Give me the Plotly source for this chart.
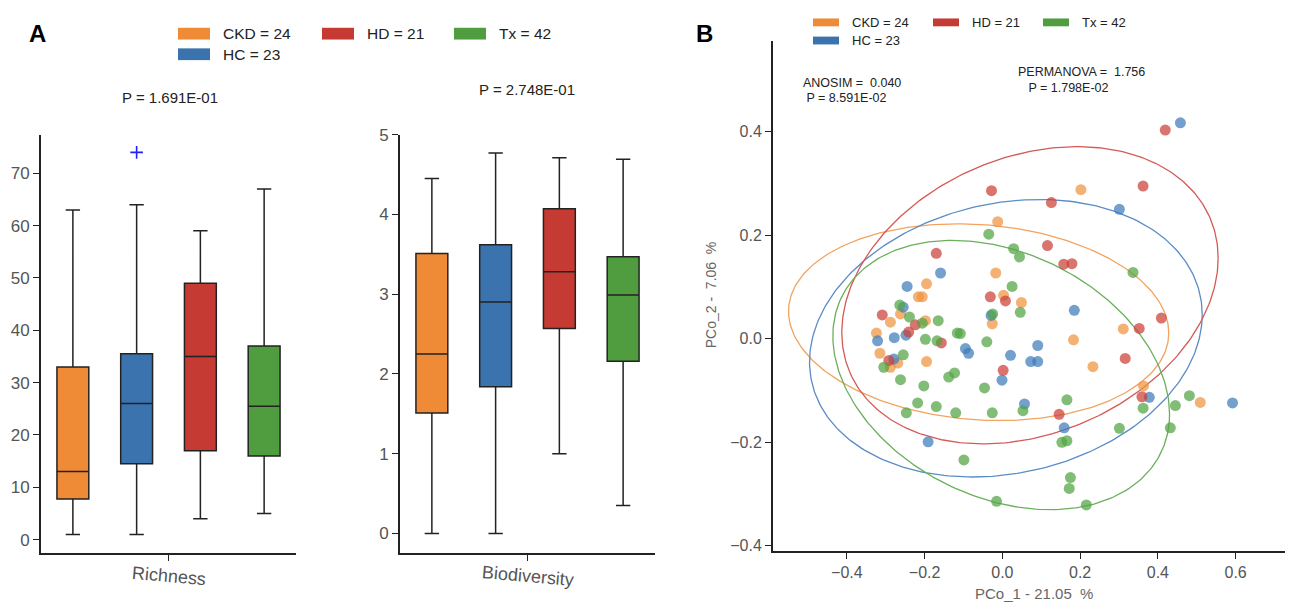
import numpy as np
import plotly.graph_objects as go

# page body adds an 8 px margin, so the figure is 8 px smaller and positions are shifted
OFF = 8
W, H = 1293 - OFF, 605 - OFF

# ---------------- data ----------------
groups = ["CKD", "HC", "HD", "Tx"]
group_n = [24, 23, 21, 42]
box_colors = ["#EF8A37", "#3A73AE", "#C53A32", "#4F9D3F"]
pt_colors = ["#F0933F", "#3F7BBA", "#CC3F37", "#52A443"]
box_pos = [0, 1, 2, 3]
metric_labels = ["Richness", "Biodiversity"]

# Richness box statistics
rich_min = [1, 1, 4, 5]
rich_q1 = [7.75, 14.5, 17, 16]
rich_med = [13, 26, 35, 25.5]
rich_q3 = [33, 35.5, 49, 37]
rich_max = [63, 64, 59, 67]
rich_outlier_pos = [1]
rich_outlier_val = [74]

# Biodiversity box statistics
bio_min = [0.0, 0.0, 1.0, 0.35]
bio_q1 = [1.51, 1.84, 2.57, 2.16]
bio_med = [2.25, 2.90, 3.28, 2.99]
bio_q3 = [3.51, 3.62, 4.07, 3.47]
bio_max = [4.45, 4.77, 4.71, 4.69]

rich_p = "P = 1.691E-01"
bio_p = "P = 2.748E-01"

# PCoA coordinates
ckd_x = [-0.012, 0.202, -0.017, -0.195, -0.216, -0.206, 0.003, 0.049, -0.262, -0.288, -0.198,
         -0.026, -0.324, 0.183, 0.311, -0.315, -0.269, -0.288, -0.195, 0.233, 0.363, 0.509]
ckd_y = [0.226, 0.288, 0.127, 0.106, 0.081, 0.081, 0.084, 0.070, 0.048, 0.032, 0.035,
         0.029, 0.011, -0.002, 0.019, -0.028, -0.047, -0.055, -0.044, -0.054, -0.091, -0.123]
hc_x = [0.458, 0.301, -0.159, -0.245, -0.255, -0.029, -0.248, -0.321, -0.278, 0.185, 0.091, -0.095,
        -0.087, 0.021, 0.073, 0.091, -0.001, -0.279, 0.057, 0.159, -0.191, 0.378, 0.592]
hc_y = [0.417, 0.250, 0.127, 0.101, 0.061, 0.045, 0.007, -0.004, 0.002, 0.055, -0.013, -0.019,
        -0.028, -0.032, -0.044, -0.044, -0.080, -0.039, -0.126, -0.172, -0.199, -0.113, -0.124]
hd_x = [0.419, -0.028, 0.362, 0.126, -0.170, 0.116, 0.158, 0.179, -0.031, 0.008, -0.309,
        -0.224, -0.241, -0.157, -0.292, 0.409, 0.352, 0.316, 0.002, 0.146, 0.359]
hd_y = [0.403, 0.286, 0.295, 0.263, 0.165, 0.180, 0.144, 0.145, 0.081, 0.073, 0.046,
        0.027, 0.013, -0.008, -0.042, 0.040, 0.020, -0.038, -0.061, -0.146, -0.112]
tx_x = [-0.035, 0.029, 0.044, 0.025, 0.046, -0.264, -0.239, -0.206, -0.165, -0.025, -0.198,
        -0.168, -0.116, -0.108, -0.040, 0.336, -0.255, -0.305, -0.262, -0.202, -0.138, -0.123,
        -0.046, -0.218, -0.170, -0.247, -0.120, -0.026, 0.053, 0.166, 0.301, 0.153, 0.166,
        -0.099, 0.175, 0.172, -0.015, 0.216, 0.362, 0.481, 0.445, 0.432]
tx_y = [0.202, 0.174, 0.158, 0.101, 0.051, 0.065, 0.042, 0.030, 0.035, 0.048, -0.001,
        -0.004, 0.011, 0.010, -0.006, 0.128, -0.031, -0.055, -0.079, -0.091, -0.074, -0.066,
        -0.095, -0.124, -0.131, -0.143, -0.143, -0.143, -0.139, -0.118, -0.173, -0.200, -0.197,
        -0.234, -0.268, -0.289, -0.314, -0.321, -0.134, -0.110, -0.129, -0.172]
pcoa_x = [ckd_x, hc_x, hd_x, tx_x]
pcoa_y = [ckd_y, hc_y, hd_y, tx_y]

# confidence ellipses: centre, half-width, half-height, x/y coupling
ell_cx = [-0.061, 0.009, 0.071, -0.003]
ell_cy = [0.032, 0.001, 0.084, -0.070]
ell_w = [0.489, 0.505, 0.484, 0.433]
ell_h = [0.190, 0.268, 0.287, 0.260]
ell_c = [-0.11, 0.17, 0.25, -0.29]
ell_colors = ["#F2A35E", "#5A8CC6", "#D45A55", "#6AB05C"]

anosim_txt = ["ANOSIM =\u00a0\u00a00.040", "\u00a0P = 8.591E-02"]
permanova_txt = ["PERMANOVA =\u00a0\u00a01.756", "\u00a0\u00a0\u00a0P = 1.798E-02"]
x_title_b = "PCo_1 - 21.05\u00a0\u00a0%"
y_title_b = "PCo_2 -\u00a0\u00a07.06\u00a0\u00a0%"

# ---------------- figure ----------------
FONT = "Liberation Sans, Arial, sans-serif"
AXC = "#222222"
TICKC = "#555555"


def px_x(p):
    return (p - OFF) / W


def px_y(p):
    return 1 - (p - OFF) / H


fig = go.Figure()

# Panel A boxes
for ax, (lo, q1, md, q3, hi) in [("x", (rich_min, rich_q1, rich_med, rich_q3, rich_max)),
                                  ("x2", (bio_min, bio_q1, bio_med, bio_q3, bio_max))]:
    yax = "y" if ax == "x" else "y2"
    for i in range(4):
        fig.add_trace(go.Box(
            x=[box_pos[i]], q1=[q1[i]], median=[md[i]], q3=[q3[i]],
            lowerfence=[lo[i]], upperfence=[hi[i]],
            width=0.5, whiskerwidth=0.45, boxpoints=False,
            fillcolor=box_colors[i], line=dict(color=AXC, width=1.5),
            xaxis=ax, yaxis=yax, showlegend=False, hoverinfo="skip"))

fig.add_trace(go.Scatter(
    x=rich_outlier_pos, y=rich_outlier_val, mode="markers",
    marker=dict(symbol="cross-thin", size=9, line=dict(color="#1F1FFF", width=1.6)),
    xaxis="x", yaxis="y", showlegend=False, hoverinfo="skip"))

# Panel B ellipses
t = np.linspace(0, 2 * np.pi, 300)
for i in range(4):
    ex = ell_cx[i] + ell_w[i] * np.cos(t)
    ey = ell_cy[i] + ell_h[i] * (ell_c[i] * np.cos(t) + np.sqrt(1 - ell_c[i] ** 2) * np.sin(t))
    fig.add_trace(go.Scatter(x=ex, y=ey, mode="lines", line=dict(color=ell_colors[i], width=1.3),
                             xaxis="x3", yaxis="y3", showlegend=False, hoverinfo="skip"))

# Panel B points
for i in range(4):
    fig.add_trace(go.Scatter(
        x=pcoa_x[i], y=pcoa_y[i], mode="markers",
        marker=dict(size=11, color=pt_colors[i], opacity=0.72, line=dict(width=0)),
        xaxis="x3", yaxis="y3", showlegend=False, hoverinfo="skip"))

axis_common = dict(showline=True, linecolor=AXC, linewidth=2, ticks="outside", ticklen=6,
                   tickwidth=1.3, tickcolor=AXC, showgrid=False, zeroline=False, mirror=False,
                   tickfont=dict(family=FONT, size=17, color=TICKC))

ydom_a = [px_y(555), px_y(128)]
xdom_a1 = [px_x(41), px_x(296)]
xdom_a2 = [px_x(400), px_x(655)]
fig.update_layout(
    width=W, height=H, margin=dict(l=0, r=0, t=0, b=0),
    paper_bgcolor="white", plot_bgcolor="white", showlegend=False,
    font=dict(family=FONT, color=TICKC),
    boxmode="overlay",
    xaxis=dict(axis_common, domain=xdom_a1, range=[-0.5, 3.5],
               tickvals=[1.5], ticktext=[""], anchor="y"),
    yaxis=dict(axis_common, domain=ydom_a, range=[-2.56, 77.4],
               tickvals=[0, 10, 20, 30, 40, 50, 60, 70], anchor="x"),
    xaxis2=dict(axis_common, domain=xdom_a2, range=[-0.5, 3.5],
                tickvals=[1.5], ticktext=[""], anchor="y2"),
    yaxis2=dict(axis_common, domain=ydom_a, range=[-0.245, 5.0],
                tickvals=[0, 1, 2, 3, 4, 5], anchor="x2"),
    xaxis3=dict(axis_common, domain=[px_x(773), px_x(1292)], range=[-0.59, 0.745],
                tickvals=[-0.4, -0.2, 0.0, 0.2, 0.4, 0.6],
                ticktext=["\u22120.4", "\u22120.2", "0.0", "0.2", "0.4", "0.6"], anchor="y3"),
    yaxis3=dict(axis_common, domain=[px_y(553), px_y(32)], range=[-0.41, 0.576],
                tickvals=[-0.4, -0.2, 0.0, 0.2, 0.4],
                ticktext=["\u22120.4", "\u22120.2", "0.0", "0.2", "0.4"], anchor="x3"),
)
fig.update_xaxes(tickfont=dict(size=16), selector=dict(anchor="y3"))
fig.update_yaxes(tickfont=dict(size=16), selector=dict(anchor="x3"))

shapes = []
ann = []


def text(xp, yp, s, size, color="#222222", anchor="left", bold=False, angle=0):
    ann.append(dict(x=px_x(xp), y=px_y(yp), xref="paper", yref="paper", text=("<b>%s</b>" % s) if bold else s,
                    showarrow=False, xanchor=anchor, yanchor="middle", textangle=angle,
                    font=dict(family=FONT, size=size, color=color)))


# category labels under the box panels (slightly rotated, centred on the tick)
for lab, xa in zip(metric_labels, ["x", "x2"]):
    ann.append(dict(x=1.5, xref=xa, y=px_y(578), yref="paper", text=lab, showarrow=False,
                    xanchor="center", yanchor="middle", textangle=5,
                    font=dict(family=FONT, size=18, color=TICKC)))

# panel letters
text(37, 25, "A", 24, "#000000", "center", bold=True)
text(704, 25, "B", 24, "#000000", "center", bold=True)

# legends (two rows, column-major)
for (col_x, row_y, rw, rh, tdx, fs) in [([178, 322, 454], [25, 46], 32, 12, 43, 15.5),
                                         ([813, 933, 1043], [13.5, 32], 26, 8, 37, 13)]:
    for i, g in enumerate(groups):
        cx = col_x[i // 2] if i < 2 else col_x[i - 1]
        cy = row_y[i % 2] if i < 2 else row_y[0]
        shapes.append(dict(type="rect", xref="paper", yref="paper",
                           x0=px_x(cx), x1=px_x(cx + rw), y0=px_y(cy - rh / 2), y1=px_y(cy + rh / 2),
                           fillcolor=box_colors[i], line=dict(width=0)))
        text(cx + tdx, cy, "%s = %d" % (g, group_n[i]), fs)

# p-values panel A
text(170, 90, rich_p, 15, anchor="center")
text(527, 82, bio_p, 15, anchor="center")

# statistics panel B
text(801, 75, anosim_txt[0], 12.5)
text(801, 91, anosim_txt[1], 12.5)
text(1016, 64, permanova_txt[0], 12.5)
text(1016, 80, permanova_txt[1], 12.5)

# axis titles panel B
text(1034, 596, x_title_b, 15, "#666666", "center")
text(711, 292, y_title_b, 14, "#666666", "center", angle=-90)

fig.update_layout(shapes=shapes, annotations=ann)
fig.write_html("out.html")
